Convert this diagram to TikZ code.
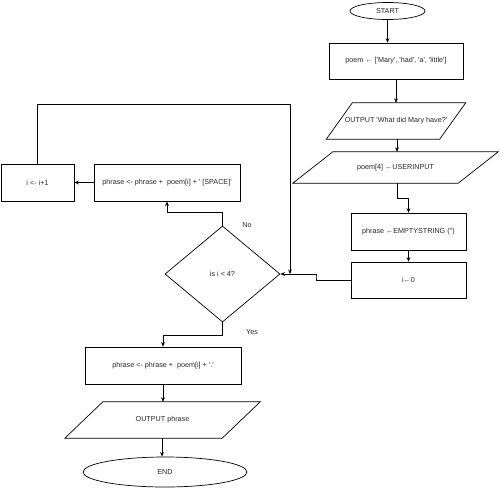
\documentclass[tikz,border=0pt]{standalone}
\usepackage{fontspec}
\setmainfont{Liberation Sans}[Ligatures=TeXOff]
\usetikzlibrary{arrows.meta,shapes.geometric,calc}
\begin{document}
\begin{tikzpicture}[x=1pt,y=-1pt,
  every node/.style={font=\fontsize{7.2}{8.6}\selectfont, inner sep=0pt, text=black!85},
  proc/.style={draw, rectangle, line width=0.7pt},
  term/.style={draw, ellipse, line width=0.7pt},
  decis/.style={draw, diamond, line width=0.7pt, aspect=1.2},
  para/.style={rectangle},
  conn/.style={line width=0.7pt, -{Stealth[length=4.5pt,width=3.8pt]}},
  line/.style={line width=0.7pt},
  lbl/.style={}]
\useasboundingbox (0,0) rectangle (500,488);

% nodes
\node[term, minimum width=75pt, minimum height=17pt] (start) at (387.5,11) {START};
\node[proc, minimum width=134pt, minimum height=36pt] (poem) at (396,61) {poem ← ['Mary', 'had', 'a', 'little']};
\node[para, minimum width=113pt, minimum height=36pt] (out1) at (396,121) {OUTPUT 'What did Mary have?'};
\node[para, minimum width=165pt, minimum height=31pt] (in4) at (395.5,167.5) {poem[4] ←USERINPUT};
\node[proc, minimum width=115pt, minimum height=37pt] (empty) at (408.5,231.5) {phrase ←EMPTYSTRING ('')};
\node[proc, minimum width=115pt, minimum height=36pt] (izero) at (408.5,280) {i←0};
\node[decis, minimum width=115pt, minimum height=96pt] (dia) at (222.5,274) {is i < 4?};
\node[proc, minimum width=73pt, minimum height=37pt] (inc) at (37.5,182.5) {i <- i+1};
\node[proc, minimum width=146pt, minimum height=37pt] (addsp) at (167,182.5) {phrase <- phrase +\ \ poem[i] + ' [SPACE]'};
\node[proc, minimum width=156pt, minimum height=37pt] (addp) at (163,365.5) {phrase <- phrase +\ \ poem[i] + '.'};
\node[para, minimum width=157pt, minimum height=36pt] (outp) at (162.5,420) {OUTPUT phrase};
\node[term, minimum width=164pt, minimum height=30pt] (end) at (165,472) {END};

% parallelograms
\draw[line] ([xshift=13pt]out1.north west) -- ([xshift=13pt]out1.north east) -- ([xshift=-13pt]out1.south east) -- ([xshift=-13pt]out1.south west) -- cycle;
\draw[line] ([xshift=20pt]in4.north west) -- ([xshift=20pt]in4.north east) -- ([xshift=-20pt]in4.south east) -- ([xshift=-20pt]in4.south west) -- cycle;
\draw[line] ([xshift=19pt]outp.north west) -- ([xshift=19pt]outp.north east) -- ([xshift=-19pt]outp.south east) -- ([xshift=-19pt]outp.south west) -- cycle;

% labels
\node[lbl] (no) at (247,225) {No};
\node[lbl] (yes) at (252,332) {Yes};

% coordinates
\coordinate (jx) at (316,277);
\coordinate (looptop) at (290,104);

% connectors
\draw[conn] (start.south) -- (start.south |- poem.north);
\draw[conn] (poem.south) -- (poem.south |- out1.north);
\draw[conn] ([xshift=1pt]out1.south) -- ([xshift=1pt]out1.south |- in4.north);
\draw[conn] ([xshift=1.5pt]in4.south) -- ++(0,15) -| (empty.north);
\draw[conn] (empty.south) -- (izero.north);
\draw[conn] (izero.west) -| (jx) |- (dia.east);
\draw[conn] (inc.north) |- (looptop) -- (looptop |- dia.east);
\draw[conn] (dia.north) -- ++(0,-13) -| (addsp.south);
\draw[conn] (addsp.west) -- (inc.east);
\draw[conn] (dia.south) -- ++(0,13) -| (addp.north);
\draw[conn] (addp.south) -- (addp.south |- outp.north);
\draw[conn] ([xshift=-0.5pt]outp.south) -- ([xshift=-0.5pt]outp.south |- end.north);
\end{tikzpicture}
\end{document}
